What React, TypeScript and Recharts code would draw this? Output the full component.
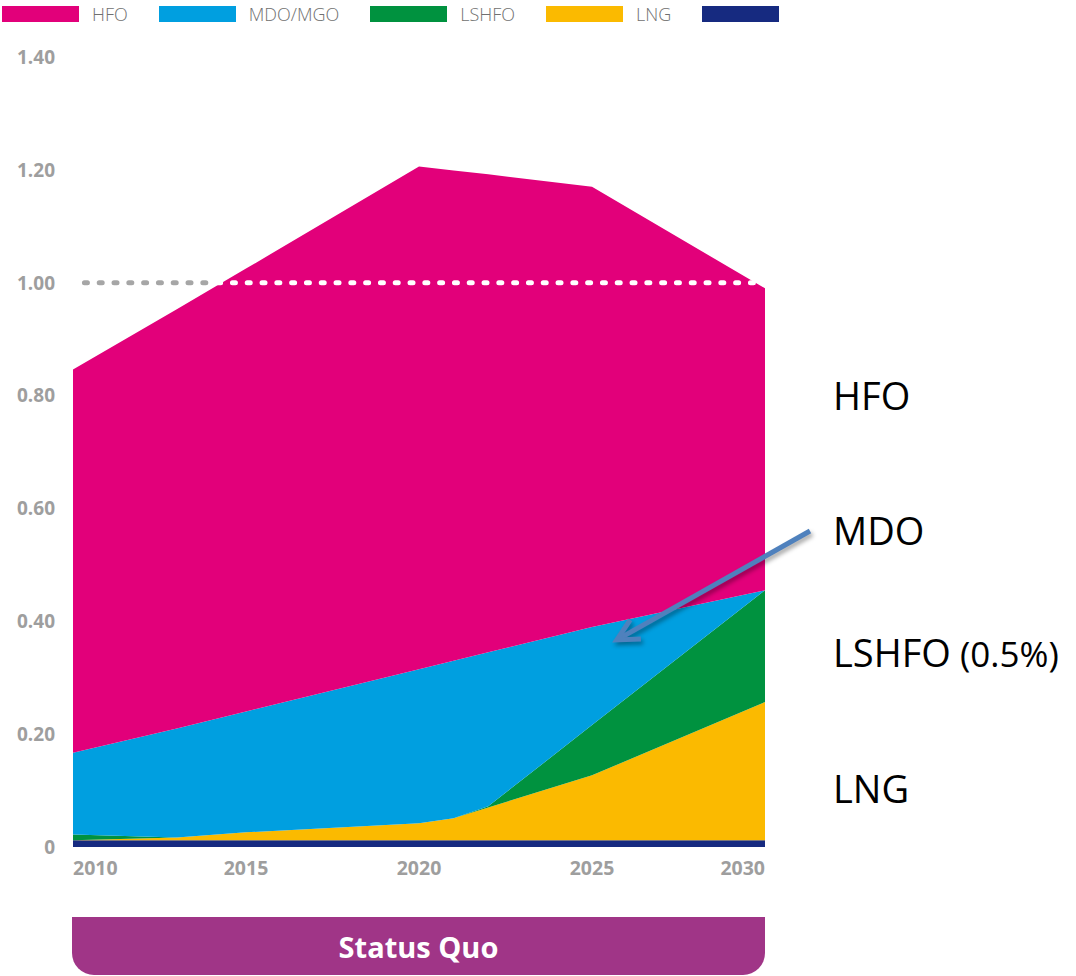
import React from "react";
import { AreaChart, Area, XAxis, YAxis, ReferenceLine } from "recharts";

// ---- data ----
const years = [2010, 2013, 2015, 2020, 2021, 2022, 2025, 2030];
const baseSeries = [0.012, 0.012, 0.012, 0.012, 0.012, 0.012, 0.012, 0.012];
const lngSeries = [0, 0.005, 0.014, 0.03, 0.039, 0.058, 0.115, 0.245];
const lshfoSeries = [0.01, 0, 0, 0, 0, 0.002, 0.089, 0.198];
const mdoSeries = [0.145, 0.193, 0.214, 0.273, 0.279, 0.273, 0.174, 0];
const hfoSeries = [0.679, 0.743, 0.785, 0.891, 0.869, 0.847, 0.78, 0.535];

const xTicks = [2010, 2015, 2020, 2025, 2030];
const yTicks = [0, 0.2, 0.4, 0.6, 0.8, 1.0, 1.2, 1.4];

const legendItems = [
  { name: "HFO", color: "#E2007A" },
  { name: "MDO/MGO", color: "#009FE0" },
  { name: "LSHFO", color: "#00923F" },
  { name: "LNG", color: "#FBBA00" },
  { name: "", color: "#162A80" },
];

const sideLabels = [
  { main: "HFO", extra: "" },
  { main: "MDO", extra: "" },
  { main: "LSHFO", extra: " (0.5%)" },
  { main: "LNG", extra: "" },
];
const sideBaselines = [410, 545, 667, 803];

const footerLabel = "Status Quo";

const data = years.map((y, i) => ({
  year: y,
  base: baseSeries[i],
  lng: lngSeries[i],
  lshfo: lshfoSeries[i],
  mdo: mdoSeries[i],
  hfo: hfoSeries[i],
}));

const tickColor = "#9e9e9e";
const tickFont = "'Open Sans', 'DejaVu Sans', sans-serif";

const XTick = (props: any) => {
  const { x, y, payload } = props;
  const v = payload.value;
  const anchor = v === xTicks[0] ? "start" : v === xTicks[xTicks.length - 1] ? "end" : "middle";
  return (
    <text
      x={x}
      y={y}
      dy="0.72em"
      textAnchor={anchor}
      fill={tickColor}
      fontSize={19.5}
      fontWeight={700}
      fontFamily={tickFont}
    >
      {v}
    </text>
  );
};

const YTick = (props: any) => {
  const { x, y, payload } = props;
  const v = payload.value;
  return (
    <text
      x={x}
      y={y}
      dy="0.36em"
      textAnchor="end"
      fill={tickColor}
      fontSize={19}
      fontWeight={700}
      fontFamily={tickFont}
    >
      {v === 0 ? "0" : v.toFixed(2)}
    </text>
  );
};

const ArrowShape = (p: any) => {
  const { x1, y1, x2, y2 } = p;
  const ang = Math.atan2(y1 - y2, x1 - x2);
  const len = 24;
  const spread = (27 * Math.PI) / 180;
  const ax1 = x2 + len * Math.cos(ang + spread);
  const ay1 = y2 + len * Math.sin(ang + spread);
  const ax2 = x2 + len * Math.cos(ang - spread);
  const ay2 = y2 + len * Math.sin(ang - spread);
  return (
    <g style={{ filter: "drop-shadow(2px 3px 2px rgba(0,0,0,0.35))" }}>
      <line x1={x1} y1={y1} x2={x2} y2={y2} stroke="#4F81BD" strokeWidth={5} />
      <polyline
        points={`${ax1},${ay1} ${x2},${y2} ${ax2},${ay2}`}
        fill="none"
        stroke="#4F81BD"
        strokeWidth={5}
        strokeLinejoin="miter"
      />
    </g>
  );
};

export default function App() {
  return (
    <div
      style={{
        position: "absolute",
        left: 0,
        top: 0,
        width: 1076,
        height: 976,
        background: "#fff",
        overflow: "hidden",
      }}
    >
      {/* legend */}
      <div
        style={{
          position: "absolute",
          left: 2,
          top: 6,
          height: 16,
          display: "flex",
          alignItems: "center",
          fontFamily: tickFont,
          fontWeight: 300,
          fontSize: 18,
          color: "#707070",
        }}
      >
        {legendItems.map((it, i) => (
          <div key={i} style={{ display: "flex", alignItems: "center", marginRight: 31 }}>
            <div style={{ width: 77, height: 16, background: it.color }} />
            {it.name ? <span style={{ marginLeft: 13, lineHeight: "16px" }}>{it.name}</span> : null}
          </div>
        ))}
      </div>

      <div style={{ position: "absolute", left: 0, top: 0 }}>
        <AreaChart
          width={1076}
          height={900}
          data={data}
          margin={{ top: 57, right: 311, bottom: 23, left: 0 }}
        >
          <XAxis
            dataKey="year"
            type="number"
            domain={[2010, 2030]}
            ticks={xTicks}
            axisLine={false}
            tickLine={false}
            tickSize={6}
            tickMargin={8}
            height={30}
            tick={<XTick />}
            interval={0}
          />
          <YAxis
            type="number"
            domain={[0, 1.4]}
            ticks={yTicks}
            axisLine={false}
            tickLine={false}
            tickSize={6}
            tickMargin={12}
            width={73}
            tick={<YTick />}
            interval={0}
          />
          <Area type="linear" dataKey="base" stackId="1" stroke="none" fill="#162A80" fillOpacity={1} isAnimationActive={false} dot={false} activeDot={false} />
          <Area type="linear" dataKey="lng" stackId="1" stroke="none" fill="#FBBA00" fillOpacity={1} isAnimationActive={false} dot={false} activeDot={false} />
          <Area type="linear" dataKey="lshfo" stackId="1" stroke="none" fill="#00923F" fillOpacity={1} isAnimationActive={false} dot={false} activeDot={false} />
          <Area type="linear" dataKey="mdo" stackId="1" stroke="none" fill="#009FE0" fillOpacity={1} isAnimationActive={false} dot={false} activeDot={false} />
          <Area type="linear" dataKey="hfo" stackId="1" stroke="none" fill="#E2007A" fillOpacity={1} isAnimationActive={false} dot={false} activeDot={false} />
          <ReferenceLine
            segment={[{ x: 2010.33, y: 1 }, { x: 2013.84, y: 1 }]}
            stroke="#a6a6a6"
            strokeWidth={5}
            strokeDasharray="3 11.8"
            strokeLinecap="round"
            ifOverflow="visible"
          />
          <ReferenceLine
            segment={[{ x: 2014.18, y: 1 }, { x: 2029.71, y: 1 }]}
            stroke="#ffffff"
            strokeWidth={5}
            strokeDasharray="3 11.8"
            strokeLinecap="round"
            ifOverflow="visible"
          />
          <ReferenceLine
            segment={[{ x: 2031.3, y: 0.56 }, { x: 2025.72, y: 0.367 }]}
            ifOverflow="visible"
            shape={ArrowShape}
          />
        </AreaChart>
      </div>

      {/* right-hand labels */}
      <svg
        width={1076}
        height={976}
        style={{ position: "absolute", left: 0, top: 0, pointerEvents: "none" }}
      >
        {sideLabels.map((l, i) => (
          <text
            key={i}
            x={833}
            y={sideBaselines[i]}
            fontFamily="'Open Sans', sans-serif"
            fontSize={38}
            fill="#000"
          >
            {l.main}
            {l.extra ? <tspan fontSize={35}>{l.extra}</tspan> : null}
          </text>
        ))}
      </svg>

      {/* footer bar */}
      <div
        style={{
          position: "absolute",
          left: 72,
          top: 917,
          width: 693,
          height: 58,
          background: "#A03587",
          borderRadius: "0 0 22px 22px",
          color: "#fff",
          fontFamily: tickFont,
          fontWeight: 700,
          fontSize: 29,
          display: "flex",
          alignItems: "center",
          justifyContent: "center",
        }}
      >
        {footerLabel}
      </div>
    </div>
  );
}
